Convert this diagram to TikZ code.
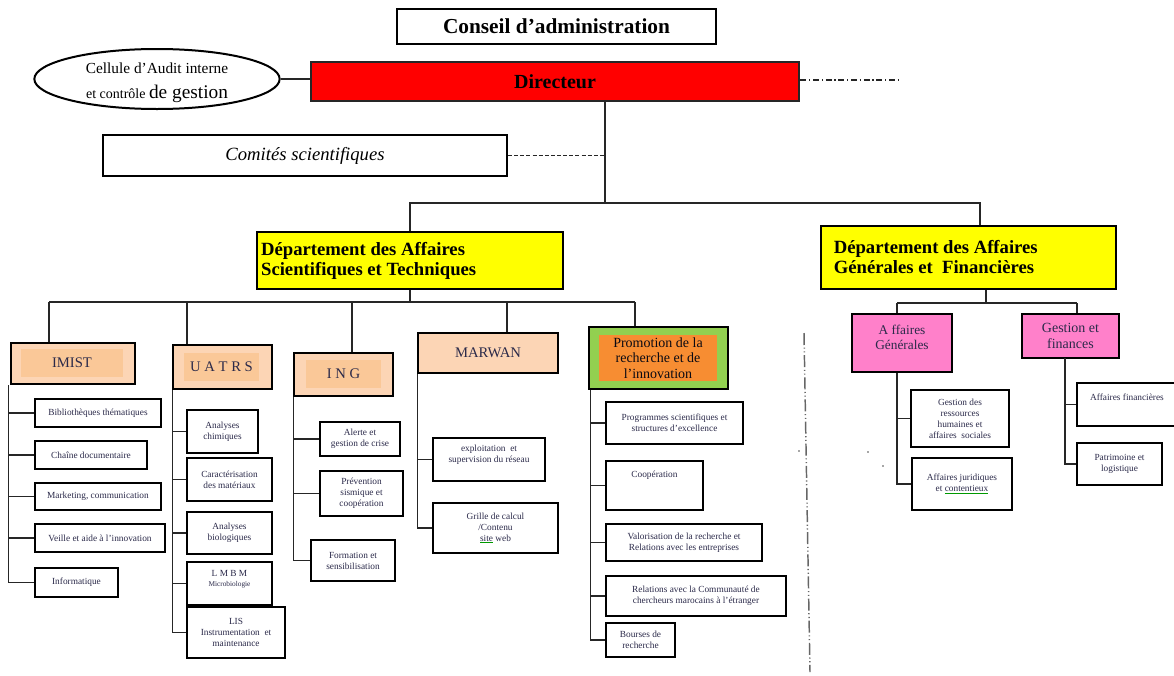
\documentclass[tikz,border=0pt]{standalone}
\usepackage{fontspec}
\setmainfont{Liberation Serif}
\usepackage{xcolor}
\definecolor{orgRed}{HTML}{FF0000}
\definecolor{orgYellow}{HTML}{FFFF00}
\definecolor{orgPeach}{HTML}{FCD5B5}
\definecolor{orgPeachIn}{HTML}{FAC898}
\definecolor{orgGreen}{HTML}{92D050}
\definecolor{orgOrange}{HTML}{F78D32}
\definecolor{orgPink}{HTML}{FF80CA}
\definecolor{orgText}{HTML}{2B2A4A}
\newsavebox{\spellbox}
\newcommand{\spellmark}[1]{\leavevmode\savebox{\spellbox}{#1}\rlap{\textcolor{green!60!black}{\rule[-1.3pt]{\wd\spellbox}{0.7pt}}}\usebox{\spellbox}}
\usepackage{tikz}
\usetikzlibrary{positioning,shapes.geometric}

\begin{document}
\begin{tikzpicture}[x=0.75pt,y=-0.75pt,
      every node/.style={inner sep=0pt},
      corners/.style args={#1,#2,#3,#4}{at={({(#1+#3)/2},{(#2+#4)/2})},
                     minimum width={(#3-#1)*0.75pt},minimum height={(#4-#2)*0.75pt}},
      topbox/.style={rectangle,draw=black,line width=1.5pt,fill=white},
      dirbox/.style={rectangle,draw=black!85,line width=2.2pt,fill=orgRed,
                     font=\fontsize{15}{18}\selectfont\bfseries},
      audit/.style={ellipse,draw=black,line width=1.5pt,fill=white,
                    minimum width=184pt,minimum height=45pt},
      deptbox/.style={rectangle,draw=black,line width=2.2pt,fill=orgYellow},
      depttext/.style={anchor=west,align=left,
                       font=\fontsize{14}{15}\selectfont\bfseries},
      unitbox/.style={rectangle,draw=black,line width=2.2pt,fill=orgPeach,
                      font=\fontsize{11}{13}\selectfont,text=orgText},
      unitcore/.style={rectangle,fill=orgPeachIn,
                       font=\fontsize{11}{13}\selectfont,text=orgText},
      promobox/.style={rectangle,draw=black,line width=2.2pt,fill=orgGreen},
      promocore/.style={rectangle,fill=orgOrange,align=center,
                        font=\fontsize{10.5}{11.6}\selectfont,text=black!75!orgText},
      pinkbox/.style={rectangle,draw=black,line width=2.2pt,fill=orgPink,
                      align=center,font=\fontsize{10}{11}\selectfont,text=orgText},
      subbox/.style={rectangle,draw=black,line width=1pt,fill=white,align=center,
                     font=\fontsize{7}{8.3}\selectfont,text=orgText},
      branch/.style={draw=black!85,line width=0.9pt},
      dashbranch/.style={branch,dash pattern=on 3pt off 1.6pt},
      dotbranch/.style={branch,line width=0.8pt,
                        dash pattern=on 4.5pt off 2pt on 1pt off 2pt},
      divider/.style={draw=black!60,line width=1.1pt,
                      dash pattern=on 9pt off 2pt on 0.8pt off 2pt on 0.8pt off 2pt},
    ]
    \useasboundingbox (0,0) rectangle (1174,675);

    % --- Direction ---
    \node[topbox,corners={397,9,716,44},font=\fontsize{16}{19}\selectfont\bfseries] (conseil) {Conseil d’administration};
    \node[dirbox,corners={311,62,799,101}] (dir) {Directeur};
    \node[audit] (audit) at (157,79) {};
    \node[align=center,font=\fontsize{11.5}{19}\selectfont] (audit-t) at (157,83) {Cellule d’Audit interne\\{\fontsize{10.5}{12}\selectfont et contrôle }{\fontsize{14.5}{16}\selectfont de gestion}};
    \node[topbox,corners={103,135,507,176},font=\fontsize{14}{16}\selectfont\itshape] (comites) {Comités scientifiques};

    \coordinate (split) at (605,203);
    \coordinate (dirend) at (900,80);
    \draw[branch] (audit.east) -- (audit.east -| dir.west);
    \draw[dotbranch] (dir.east |- dirend) -- (dirend);
    \draw[branch] (dir.south -| split) -- (split);
    \draw[dashbranch] (comites.east) -- (comites.east -| split);

    % --- Departments ---
    \node[deptbox,corners={257,232,563,289}] (dast) {};
    \node[depttext] (dast-t) at ([xshift=4pt]dast.west) {Département des Affaires\\Scientifiques et Techniques};
    \node[deptbox,corners={821,226,1116,289}] (dagf) {};
    \node[depttext] (dagf-t) at ([xshift=10.5pt]dagf.west) {Département des Affaires\\Générales et\ \ Financières};
    \coordinate (gfTop) at (980,203);
    \draw[branch] (dast.north) |- (split) -- (gfTop) -- (gfTop |- dagf.north);

    % --- Units of the scientific department ---
    \node[unitbox,corners={11,343,135,384}] (imist) {};
    \node[unitcore,corners={21,349,123,377}] (imist-t) {IMIST};
    \node[unitbox,corners={173,345,272,389}] (uatrs) {};
    \node[unitcore,corners={184,353,259,381}] (uatrs-t) {U A T R S};
    \node[unitbox,corners={294,353,393,396}] (ing) {};
    \node[unitcore,corners={306,360,381,388}] (ing-t) {I N G};
    \node[unitbox,corners={418,333,558,373}] (marwan) {MARWAN};
    \node[promobox,corners={589,327,728,389}] (promo) {};
    \node[promocore,corners={599,335,717,381}] (promo-t) {Promotion de la\\recherche et de\\l’innovation};

    \coordinate (b-imist) at (49,302);
    \coordinate (b-uatrs) at (187,302);
    \coordinate (b-ing) at (352,302);
    \coordinate (b-marwan) at (507,302);
    \coordinate (b-promo) at (635,302);
    \draw[branch] (dast.south) -- (dast.south |- b-imist);
    \draw[branch] (b-imist) -- (b-promo);
    \foreach \n in {imist,uatrs,ing,marwan,promo}
      \draw[branch] (b-\n) -- (b-\n |- \n.north);

    % --- IMIST ---
    \node[subbox,corners={35,399,161,427}] (bib) {Bibliothèques thématiques};
    \node[subbox,corners={35,441,147,469}] (chaine) {Chaîne documentaire};
    \node[subbox,corners={35,483,161,510}] (mkt) {Marketing, communication};
    \node[subbox,corners={35,524,165,552}] (veille) {Veille et aide à l’innovation};
    \node[subbox,corners={35,568,118,597}] (info) {Informatique};
    \draw[branch] ([xshift=-0.75pt]imist.south west) |- (info.west);
    \foreach \n in {bib,chaine,mkt,veille}
      \draw[branch] ([xshift=-0.75pt]imist.south west |- \n.west) -- (\n.west);

    % --- UATRS ---
    \node[subbox,corners={187,410,258,453}] (chim) {Analyses\\chimiques};
    \node[subbox,corners={187,458,272,501}] (carac) {Caractérisation\\des matériaux};
    \node[subbox,corners={187,512,272,554}] (bio) {Analyses\\biologiques};
    \node[subbox,corners={187,562,272,605}] (lmbm) {L M B M\\[-1pt]{\fontsize{5.5}{6}\selectfont Microbiologie}\\[-1pt]~};
    \node[subbox,corners={187,607,285,658}] (lis) {LIS\\Instrumentation\ \ et\\maintenance};
    \draw[branch] ([xshift=0.75pt]uatrs.south west) |- (lis.west);
    \foreach \n in {chim,carac,bio,lmbm}
      \draw[branch] ([xshift=0.75pt]uatrs.south west |- \n.west) -- (\n.west);

    % --- ING ---
    \node[subbox,corners={320,422,400,456}] (alerte) {Alerte et\\gestion de crise};
    \node[subbox,corners={320,471,403,516}] (prev) {Prévention\\sismique et\\coopération};
    \node[subbox,corners={311,540,395,581}] (form) {Formation et\\sensibilisation};
    \draw[branch] ([xshift=0.75pt]ing.south west) |- (form.west);
    \foreach \n in {alerte,prev}
      \draw[branch] ([xshift=0.75pt]ing.south west |- \n.west) -- (\n.west);

    % --- MARWAN ---
    \node[subbox,corners={433,438,545,481}] (expl) {exploitation\ \ et\\supervision du réseau\\[0pt]~};
    \node[subbox,corners={433,503,558,553}] (grille) {Grille de calcul\\/Contenu\\\spellmark{site} web};
    \draw[branch] ([xshift=0.75pt]marwan.south west) |- (grille.west);
    \draw[branch] ([xshift=0.75pt]marwan.south west |- expl.west) -- (expl.west);

    % --- Promotion de la recherche ---
    \node[subbox,corners={606,402,743,444}] (prog) {Programmes scientifiques et\\structures d’excellence};
    \node[subbox,corners={606,461,703,510}] (coop) {Coopération\\[9pt]~};
    \node[subbox,corners={606,524,762,561}] (valo) {Valorisation de la recherche et\\Relations avec les entreprises};
    \node[subbox,corners={606,576,786,616}] (rel) {Relations avec la Communauté de\\chercheurs marocains à l’étranger};
    \node[subbox,corners={606,623,675,657}] (bourse) {Bourses de\\recherche};
    \draw[branch] ([xshift=2.25pt]promo.south west) |- (bourse.west);
    \foreach \n in {prog,coop,valo,rel}
      \draw[branch] ([xshift=2.25pt]promo.south west |- \n.west) -- (\n.west);

    % --- Separator between the two departments ---
    \coordinate (sepTop) at (804,333);
    \coordinate (sepBot) at (810,672);
    \draw[divider] (sepTop) -- (sepBot);
    \fill[black!70] (799,451) circle (0.7pt) (868,452) circle (0.6pt) (883,466) circle (0.6pt);

    % --- General and financial affairs ---
    \node[pinkbox,corners={852,314,952,372}] (ag) {A ffaires\\Générales\\[-2pt]~};
    \node[pinkbox,corners={1022,314,1119,358},font=\fontsize{10.5}{11.5}\selectfont] (gf) {Gestion et\\finances};
    \coordinate (b-dagf) at (986,303);
    \coordinate (b-ag) at (897,303);
    \coordinate (b-gf) at (1077,303);
    \draw[branch] (b-dagf |- dagf.south) -- (b-dagf);
    \draw[branch] (b-ag) -- (b-gf);
    \draw[branch] (b-ag) -- (b-ag |- ag.north);
    \draw[branch] (b-gf) -- (b-gf |- gf.north);

    \node[subbox,corners={911,390,1009,447}] (grh) {Gestion des\\ressources\\humaines et\\affaires\ \ sociales};
    \node[subbox,corners={912,458,1012,510}] (jur) {Affaires juridiques\\et \spellmark{contentieux}};
    \draw[branch] (b-ag |- ag.south) |- (jur.west);
    \draw[branch] (b-ag |- grh.west) -- (grh.west);

    \coordinate (b-fin) at (1065,358);
    \node[subbox,corners={1077,383,1177,426}] (fin) {Affaires financières\\[2pt]~};
    \node[subbox,corners={1077,443,1162,485}] (patr) {Patrimoine et\\logistique};
    \draw[branch] (b-fin) |- (patr.west);
    \draw[branch] (b-fin |- fin.west) -- (fin.west);

  \end{tikzpicture}
\end{document}
